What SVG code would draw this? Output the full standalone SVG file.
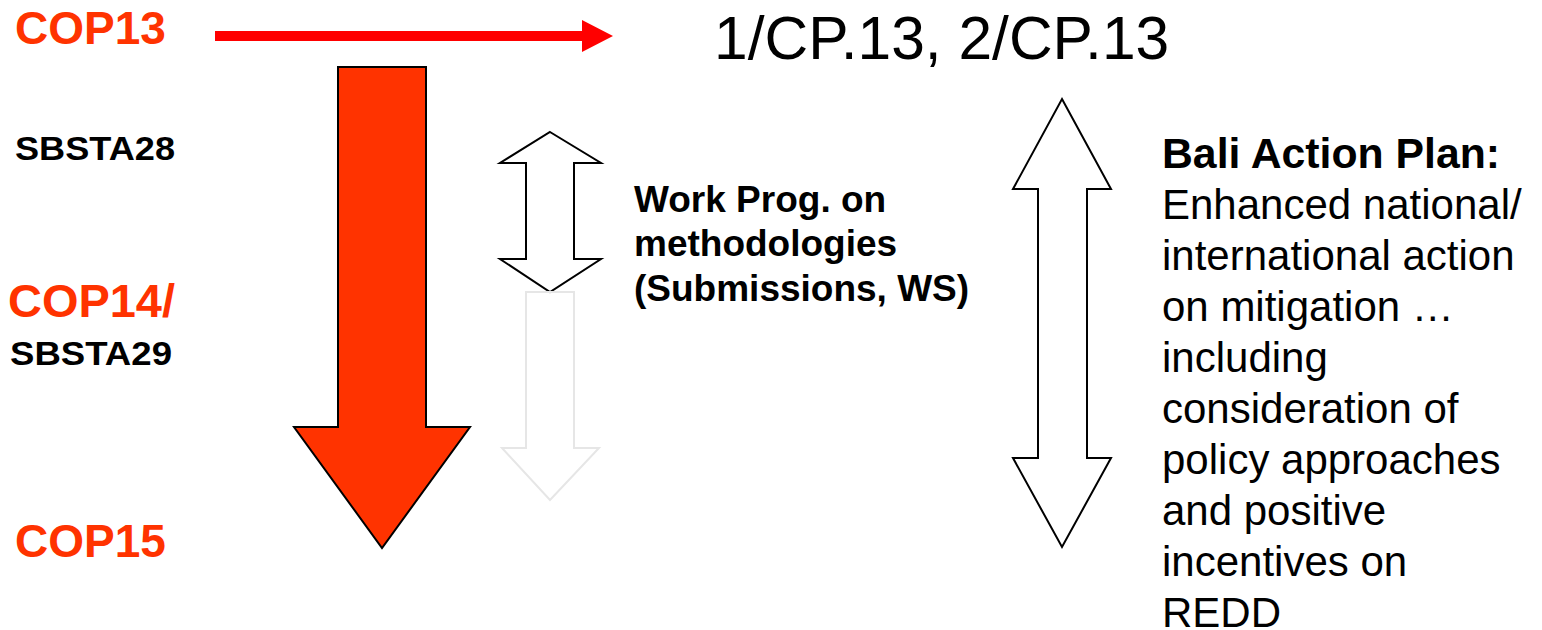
<svg xmlns="http://www.w3.org/2000/svg" width="1542" height="630" viewBox="0 0 1542 630">
<style>
text{font-family:"Liberation Sans",Arial,sans-serif}
.cop{fill:#FF3300;font-weight:bold;font-size:46px}
.sb{fill:#000;font-weight:bold;font-size:34px}
.wp{fill:#000;font-weight:bold;font-size:37px}
.bali{fill:#000;font-size:42px}
.outline{fill:#fff;stroke:#000;stroke-width:2}
</style>
<rect width="1542" height="630" fill="#fff"/>
<g id="labels">
<text class="cop" x="15" y="44">COP13</text>
<text class="sb" x="15" y="160" textLength="160" lengthAdjust="spacingAndGlyphs">SBSTA28</text>
<text class="cop" x="8" y="317" font-size="48px" textLength="167" lengthAdjust="spacingAndGlyphs">COP14/</text>
<text class="sb" x="10" y="365" textLength="162" lengthAdjust="spacingAndGlyphs">SBSTA29</text>
<text class="cop" x="15" y="557">COP15</text>
</g>
<g id="connectors">
<path d="M215 31H582V20L613 36L582 52V41H215Z" fill="#FF0000"/>
</g>
<g id="timeline-arrow">
<path d="M338 67H426V427H470L382 548L294 427H338Z" fill="#FF3300" stroke="#000" stroke-width="2"/>
</g>
<g id="workprog-arrow">
<path class="outline" d="M550 132L601 163H574V259H601L550 292L500 259H526V163H500Z"/>
</g>
<g id="faint-arrow">
<path d="M526 292H574V448H599L550 500L502 448H526Z" fill="none" stroke="#E6E6E6" stroke-width="2"/>
</g>
<g id="bali-arrow">
<path class="outline" d="M1062 99L1111 189H1087V458H1111L1062 547L1013 458H1038V189H1013Z"/>
</g>
<g id="decisions">
<text x="714" y="59" font-size="60.5px">1/CP.13, 2/CP.13</text>
</g>
<g id="workprog-text">
<text class="wp" x="634" y="212">Work Prog. on</text>
<text class="wp" x="634" y="256">methodologies</text>
<text class="wp" x="634" y="301">(Submissions, WS)</text>
</g>
<g id="bali-text">
<text class="bali" x="1162" y="168" font-weight="bold" textLength="338" lengthAdjust="spacingAndGlyphs">Bali Action Plan:</text>
<text class="bali" x="1162" y="219">Enhanced national/</text>
<text class="bali" x="1162" y="270">international action</text>
<text class="bali" x="1162" y="321">on mitigation …</text>
<text class="bali" x="1162" y="372">including</text>
<text class="bali" x="1162" y="423">consideration of</text>
<text class="bali" x="1162" y="474">policy approaches</text>
<text class="bali" x="1162" y="525">and positive</text>
<text class="bali" x="1162" y="576">incentives on</text>
<text class="bali" x="1162" y="627">REDD</text>
</g>
</svg>
